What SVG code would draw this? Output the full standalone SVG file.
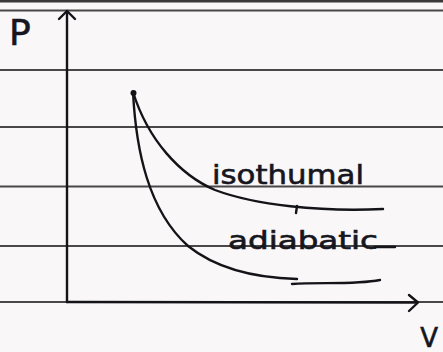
<svg xmlns="http://www.w3.org/2000/svg" width="443" height="352" viewBox="0 0 443 352">
  <style>
    .rule { stroke: #4a4748; stroke-width: 2.2; fill: none; }
    .ink { stroke: #141418; stroke-width: 2.4; fill: none; stroke-linecap: round; stroke-linejoin: round; }
    .lbl { font-family: "DejaVu Sans", "Liberation Sans", sans-serif; fill: #16161e; stroke: #16161e; stroke-width: 0.6; }
  </style>
  <rect width="443" height="352" fill="#f9f7f8"/>
  <g id="rules">
    <rect x="0" y="0" width="443" height="2.5" fill="#3a3839"/>
    <line class="rule" x1="0" y1="10.5" x2="443" y2="10.5" stroke-width="3"/>
    <line class="rule" x1="0" y1="70" x2="443" y2="70"/>
    <line class="rule" x1="0" y1="127" x2="443" y2="127"/>
    <line class="rule" x1="0" y1="186.5" x2="443" y2="186.5"/>
    <line class="rule" x1="0" y1="246" x2="443" y2="246"/>
    <line class="rule" x1="0" y1="302" x2="443" y2="302"/>
  </g>
  <g id="connectors">
    <g id="axis-p">
      <line class="ink" x1="67" y1="302" x2="67" y2="11"/>
      <polyline class="ink" points="59,19 67,11 75,19"/>
    </g>
    <g id="axis-v">
      <line class="ink" x1="67" y1="302" x2="417" y2="302.5"/>
      <polyline class="ink" points="409,295 418,302.5 409,311"/>
    </g>
  </g>
  <g id="isothermal">
    <circle cx="133.5" cy="93" r="3" fill="#141418"/>
    <path class="ink" d="M133,92 C148,140 180,175 215,190 C255,205 320,212 383,209"/>
    <path class="ink" d="M297,206 L296,213" stroke-width="1.6"/>
    <text class="lbl" x="212" y="184" font-size="27" textLength="152" lengthAdjust="spacingAndGlyphs">isothumal</text>
  </g>
  <g id="adiabatic">
    <path class="ink" d="M133,92 C136,150 148,210 188,246 C218,270 260,278 297,279"/>
    <path class="ink" d="M292,284 C320,282 355,285 380,280"/>
    <text class="lbl" x="228" y="249" font-size="24" textLength="150" lengthAdjust="spacingAndGlyphs">adiabatic</text>
    <path class="ink" d="M375,247 L395,247" stroke-width="1.8"/>
  </g>
  <g id="labels">
    <text class="lbl" x="9" y="45" font-size="36">P</text>
    <text class="lbl" x="438" y="347" font-size="26" text-anchor="end">V</text>
  </g>
</svg>
